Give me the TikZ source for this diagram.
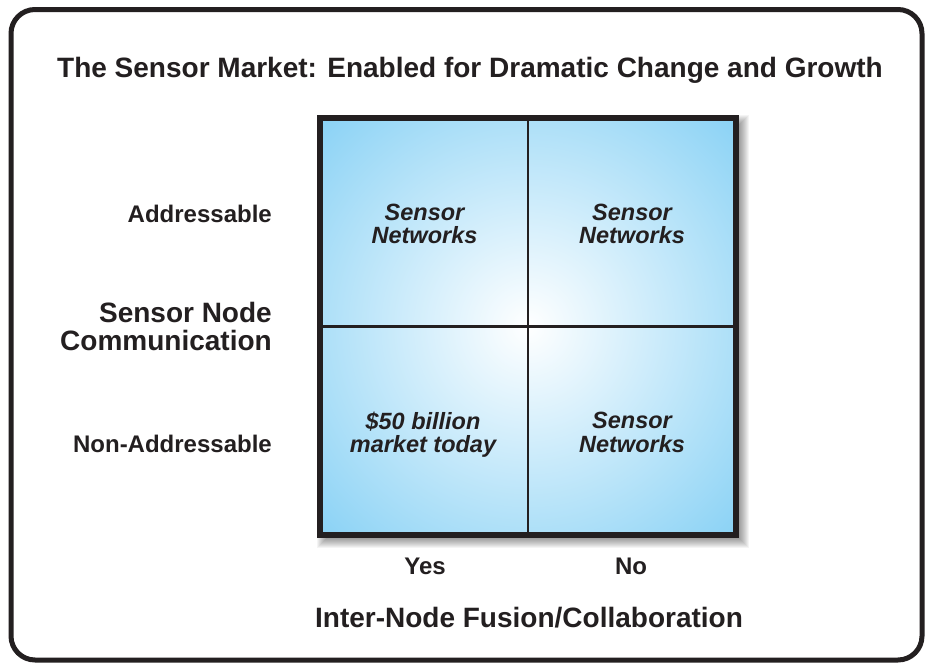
\documentclass[tikz,border=0pt]{standalone}
\usepackage{fontspec}
\setmainfont{Liberation Sans}
\definecolor{ink}{RGB}{35,31,32}
\definecolor{sky}{RGB}{138,210,245}
\pgfdeclareradialshading{cellglow}{\pgfpoint{0bp}{0bp}}{color(0bp)=(white); color(35.36bp)=(sky); color(50bp)=(sky)}
\tikzset{
  lbl/.style={font=\bfseries\fontsize{24}{24}\selectfont, text=ink, inner sep=0pt},
  big/.style={font=\bfseries\fontsize{28}{28}\selectfont, text=ink, inner sep=0pt},
  celltext/.style={font=\bfseries\itshape\fontsize{23.5}{23.5}\selectfont, text=ink, align=center, inner sep=0pt},
  divider/.style={draw=ink, line width=2.5pt},
  gridbox/.style={shading=cellglow, draw=ink, line width=6pt, minimum width=416pt, minimum height=417pt, inner sep=0pt},
  frame/.style={draw=ink, line width=5pt, rounded corners=24pt}
}
\begin{document}
\begin{tikzpicture}[x=1pt,y=-1pt]
\useasboundingbox (0,0) rectangle (926,664);
\fill[white] (0,0) rectangle (926,664);
% outer frame
\draw[frame] (11,9.5) rectangle (922,660);
% title
\node[big, anchor=base] (title) at (470,77) {The Sensor Market: Enabled for Dramatic Change and Growth};
% shadow of grid
\foreach \r in {-5,...,5}
  \fill[black, opacity=0.045] (322-\r,120-\r) rectangle (744+\r,543+\r);
% grid
\node[gridbox] (grid) at (528,326.5) {};
\draw[divider] (grid.north) -- (grid.south);
\draw[divider] (grid.west) -- (grid.east);
% cell texts
\node[celltext] (tl) at (424.5,224) {Sensor\\Networks};
\node[celltext] (tr) at (632,224) {Sensor\\Networks};
\node[celltext] (bl) at (423,434.5) {\$50 billion\\market today};
\node[celltext] (br) at (632,432.5) {Sensor\\Networks};
% row labels
\node[lbl, anchor=base east] (addr) at (272,222) {Addressable};
\node[big, anchor=east, align=right] (snc) at (272,326.8) {Sensor Node\\Communication};
\node[lbl, anchor=base east] (nonaddr) at (272,452) {Non-Addressable};
% column labels
\node[lbl, anchor=base] (yes) at (425,574) {Yes};
\node[lbl, anchor=base] (no) at (631,574) {No};
\node[big, anchor=base] (fusion) at (529,627) {Inter-Node Fusion/Collaboration};
\end{tikzpicture}
\end{document}
